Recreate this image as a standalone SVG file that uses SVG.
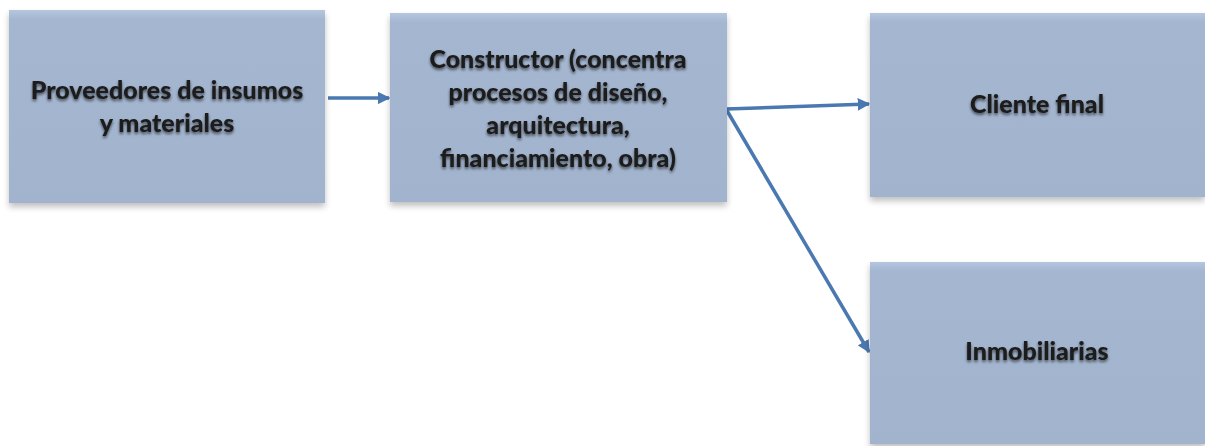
<svg xmlns="http://www.w3.org/2000/svg" width="1205" height="446" viewBox="0 0 1205 446">
<defs>
<linearGradient id="boxFill" x1="0" y1="0" x2="0" y2="1">
<stop offset="0" stop-color="#b5c6de"/>
<stop offset="0.05" stop-color="#a4b6d0"/>
<stop offset="1" stop-color="#a2b4cd"/>
</linearGradient>
<filter id="boxShadow" x="-5%" y="-5%" width="110%" height="115%">
<feGaussianBlur in="SourceAlpha" stdDeviation="3"/>
<feOffset dx="0" dy="4" result="b"/>
<feComponentTransfer><feFuncA type="linear" slope="0.25"/></feComponentTransfer>
<feMerge><feMergeNode/><feMergeNode in="SourceGraphic"/></feMerge>
</filter>
<filter id="textShadow" x="-10%" y="-30%" width="120%" height="160%">
<feGaussianBlur in="SourceAlpha" stdDeviation="1.8"/>
<feOffset dx="0" dy="2"/>
<feComponentTransfer><feFuncA type="linear" slope="0.6"/></feComponentTransfer>
<feMerge><feMergeNode/><feMergeNode in="SourceGraphic"/></feMerge>
</filter>
<marker id="arrow" viewBox="0 0 10 10" refX="9" refY="5" markerWidth="3.6" markerHeight="3.6" orient="auto" markerUnits="strokeWidth">
<path d="M0,0 L10,5 L0,10 z" fill="#4a78b0"/>
</marker>
<style>
.box{fill:url(#boxFill);filter:url(#boxShadow);}
.lbl{font-family:Lato,"Open Sans","Liberation Sans",sans-serif;font-weight:900;font-size:25px;fill:#1a1a1a;text-anchor:middle;filter:url(#textShadow);}
.conn{stroke:#4a78b0;stroke-width:3.5;fill:none;marker-end:url(#arrow);}
</style>
</defs>
<rect width="1205" height="446" fill="#ffffff"/>
<g id="connectors">
<line class="conn" x1="328" y1="98" x2="389" y2="98"/>
<line class="conn" x1="726" y1="109" x2="869" y2="104"/>
<line class="conn" x1="726" y1="109" x2="869" y2="352"/>
</g>
<g id="proveedores">
<rect class="box" x="9" y="10" width="316" height="193"/>
<text class="lbl"><tspan x="167" y="99">Proveedores de insumos</tspan><tspan x="167" y="132">y materiales</tspan></text>
</g>
<g id="constructor">
<rect class="box" x="390" y="13" width="337" height="189"/>
<text class="lbl"><tspan x="558" y="68">Constructor (concentra</tspan><tspan x="558" y="101">procesos de diseño,</tspan><tspan x="558" y="134">arquitectura,</tspan><tspan x="558" y="167">financiamiento, obra)</tspan></text>
</g>
<g id="cliente">
<rect class="box" x="870" y="13" width="335" height="184"/>
<text class="lbl" x="1037" y="113">Cliente final</text>
</g>
<g id="inmobiliarias">
<rect class="box" x="870" y="262" width="335" height="182"/>
<text class="lbl" x="1037" y="360">Inmobiliarias</text>
</g>
</svg>
